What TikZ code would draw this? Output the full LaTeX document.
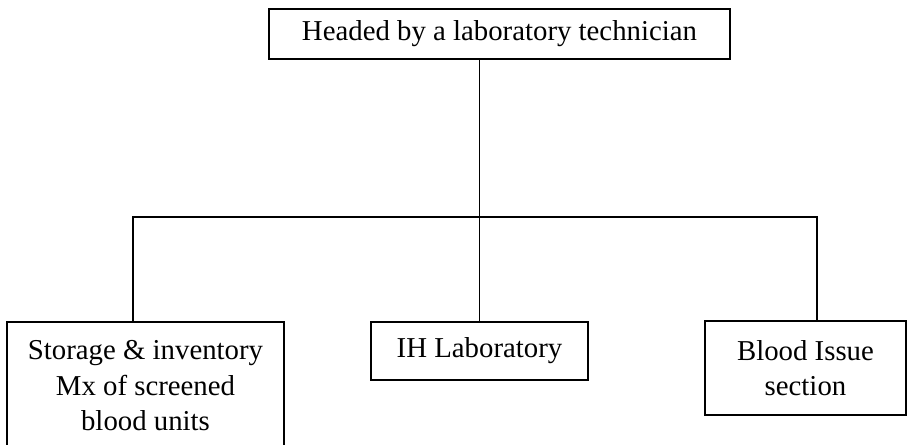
\documentclass[tikz,border=0pt]{standalone}
\usepackage{fontspec}
\setmainfont{Liberation Serif}
\begin{document}
\begin{tikzpicture}[x=0.75pt, y=-0.75pt]
\tikzset{b/.style={rectangle, draw=black, line width=0.8pt, align=center, inner sep=2pt, font=\fontsize{21.6}{26.6}\selectfont},
c/.style={-, line width=0.8pt}};
\useasboundingbox (0,0) rectangle (908,445);

\node[b, minimum width=345.75pt, minimum height=37.5pt] (head) at (499.5, 34) {Headed by a laboratory technician};
\node[b, minimum width=207.75pt, minimum height=96pt] (store) at (145.5, 386) {Storage \& inventory\\Mx of screened\\blood units};
\node[b, minimum width=162.75pt, minimum height=43.5pt] (lab) at (479.5, 351) {IH Laboratory};
\node[b, minimum width=150.75pt, minimum height=70.5pt] (issue) at (805.5, 368) {Blood Issue\\section};
\coordinate (hub) at (479.5, 217);
\coordinate (hubl) at (133, 217);
\coordinate (hubr) at (817, 217);

\draw[c] (head.south -| hub) -- (hub);
\draw[c] (hubl |- store.north) -- (hubl) -- (hubr) -- (hubr |- issue.north);
\draw[c] (hub) -- (lab.north);

\end{tikzpicture}
\end{document}
